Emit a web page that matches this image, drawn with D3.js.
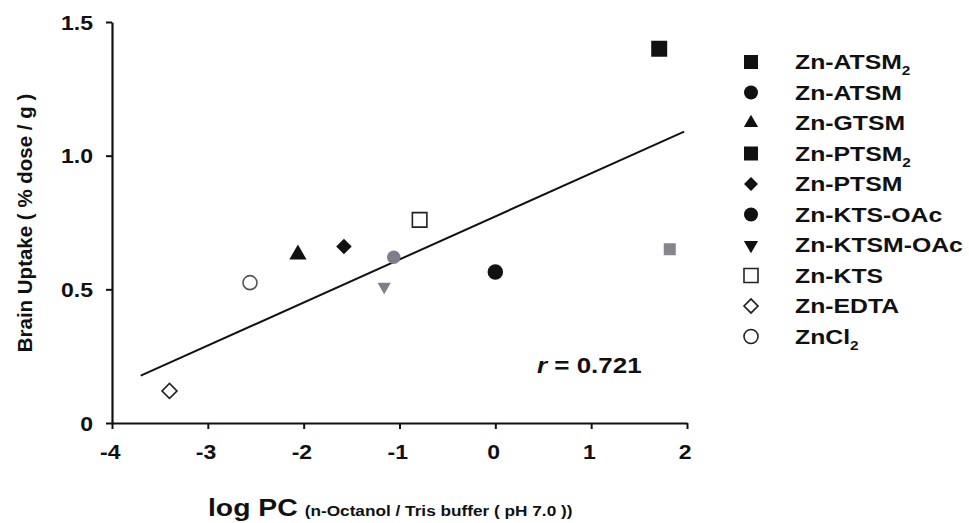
<!DOCTYPE html>
<html>
<head>
<meta charset="utf-8">
<script src="https://cdn.jsdelivr.net/npm/d3@7/dist/d3.min.js"></script>
<style>
  body { margin: 0; background: #fff; }
  svg text { font-family: "Liberation Sans", Arial, sans-serif; font-weight: bold; fill: #111; }
</style>
</head>
<body>
<div id="chart"></div>
<script>
// compounds, in legend order
var compounds = ["Zn-ATSM2", "Zn-ATSM", "Zn-GTSM", "Zn-PTSM2", "Zn-PTSM",
                 "Zn-KTS-OAc", "Zn-KTSM-OAc", "Zn-KTS", "Zn-EDTA", "ZnCl2"];
var logPC  = [1.71, 0.00, -2.06, 1.82, -1.58, -1.06, -1.16, -0.79, -3.40, -2.56];
var uptake = [1.40, 0.565, 0.63, 0.65, 0.66, 0.62, 0.51, 0.76, 0.12, 0.525];

// marker style per compound
var shapes = ["square", "circle", "triangle", "square", "diamond",
              "circle", "triangleDown", "square", "diamond", "circle"];
var fills  = ["#111", "#111", "#111", "#85858f", "#111",
              "#7f7f8c", "#7f7f8c", "#fff", "#fff", "#fff"];
var legendFills = ["#111", "#111", "#111", "#111", "#111",
                   "#111", "#111", "#fff", "#fff", "#fff"];

// axes
var xTicks = [-4, -3, -2, -1, 0, 1, 2];
var yTicks = [0, 0.5, 1.0, 1.5];
var yTickLabels = ["0", "0.5", "1.0", "1.5"];

// fitted line end points (as drawn)
var fitX = [-3.70, 1.97];
var fitY = [0.177, 1.09];
var rText = "0.721";

var width = 969, height = 523;
var sx = 1.18; // the original lettering is wide

var svg = d3.select("#chart").append("svg")
    .attr("width", width).attr("height", height);
svg.append("rect").attr("width", width).attr("height", height).attr("fill", "#fff");

var x = d3.scaleLinear().domain([-4, 2]).range([112, 687]);
var y = d3.scaleLinear().domain([0, 1.5]).range([423, 22]);

// y axis
var yAxis = svg.append("g").attr("transform", "translate(112,0)")
    .call(d3.axisLeft(y).tickValues(yTicks).tickSize(6).tickSizeOuter(0)
        .tickFormat(function(d, i) { return yTickLabels[i]; }));
yAxis.select(".domain").attr("stroke", "#111").attr("stroke-width", 2.2);
yAxis.selectAll(".tick line").attr("stroke", "#111").attr("stroke-width", 2);
yAxis.selectAll(".tick text")
    .attr("x", -19 / 1.15).attr("dy", "0.36em")
    .attr("transform", "scale(1.15,1)")
    .attr("font-size", 20)
    .style("font-family", "Liberation Sans, Arial, sans-serif").attr("font-weight", "bold").attr("fill", "#111");

// x axis
var xAxis = svg.append("g").attr("transform", "translate(0,423)")
    .call(d3.axisBottom(x).tickValues(xTicks).tickSize(6).tickSizeOuter(0)
        .tickFormat(function(d) { return String(d); }));
xAxis.select(".domain").attr("stroke", "#111").attr("stroke-width", 2.2);
xAxis.selectAll(".tick line").attr("stroke", "#111").attr("stroke-width", 2);
xAxis.selectAll(".tick text")
    .attr("x", -2).attr("y", 36).attr("dy", 0)
    .attr("transform", "scale(1.15,1)")
    .attr("font-size", 20)
    .style("font-family", "Liberation Sans, Arial, sans-serif").attr("font-weight", "bold").attr("fill", "#111");

// axis titles
svg.append("text")
    .attr("transform", "translate(32,223) rotate(-90)")
    .attr("text-anchor", "middle")
    .attr("font-size", 20.5)
    .text("Brain Uptake ( % dose / g )");

var xt = svg.append("g").attr("transform", "translate(208,516) scale(" + sx + ",1)")
    .append("text");
xt.append("tspan").attr("font-size", 24).text("log PC");
xt.append("tspan").attr("font-size", 14.6).attr("dx", 6).text("(n-Octanol / Tris buffer ( pH 7.0 ))");

// fitted line
svg.append("line")
    .attr("x1", x(fitX[0])).attr("y1", y(fitY[0]))
    .attr("x2", x(fitX[1])).attr("y2", y(fitY[1]))
    .attr("stroke", "#111").attr("stroke-width", 2);

var rt = svg.append("g").attr("transform", "translate(537,373) scale(" + sx + ",1)")
    .append("text").attr("font-size", 22);
rt.append("tspan").attr("font-style", "italic").text("r");
rt.append("tspan").text(" = " + rText);

// symbols
function symbolPath(shape, s) {
    if (shape === "square") return d3.symbol(d3.symbolSquare, s * s)();
    if (shape === "circle") return d3.symbol(d3.symbolCircle, Math.PI * s * s / 4)();
    if (shape === "triangle" || shape === "triangleDown") return d3.symbol(d3.symbolTriangle, s * s * 0.45)();
    if (shape === "diamond") return d3.symbol(d3.symbolSquare, s * s * 0.5)();
    return d3.symbol(d3.symbolCircle, s * s)();
}
function symbolRotate(shape) {
    if (shape === "diamond") return 45;
    if (shape === "triangleDown") return 180;
    return 0;
}
var sizes = [16, 15.5, 17, 12, 15.5, 13.5, 13, 14.5, 15, 14];

var pts = compounds.map(function(c, i) {
    return { name: c, x: logPC[i], y: uptake[i], shape: shapes[i], fill: fills[i], size: sizes[i] };
});

svg.append("g").selectAll("path.pt")
    .data(pts).enter().append("path")
    .attr("class", "pt")
    .attr("d", function(d) { return symbolPath(d.shape, d.size); })
    .attr("transform", function(d) {
        return "translate(" + x(d.x) + "," + y(d.y) + ") rotate(" + symbolRotate(d.shape) + ")";
    })
    .attr("fill", function(d) { return d.fill; })
    .attr("stroke", function(d) { return d.fill === "#fff" ? (d.shape === "circle" ? "#555" : "#222") : "none"; })
    .attr("stroke-width", function(d) { return d.fill === "#fff" ? 1.6 : 0; });

// legend
var leg = svg.append("g");
var rows = leg.selectAll("g.row").data(compounds).enter().append("g")
    .attr("class", "row")
    .attr("transform", function(d, i) { return "translate(751," + (62 + i * 30.5) + ")"; });

rows.append("path")
    .attr("d", function(d, i) { return symbolPath(shapes[i], 14); })
    .attr("transform", function(d, i) { return "rotate(" + symbolRotate(shapes[i]) + ")"; })
    .attr("fill", function(d, i) { return legendFills[i]; })
    .attr("stroke", function(d, i) { return legendFills[i] === "#fff" ? "#222" : "none"; })
    .attr("stroke-width", 1.6);

rows.each(function(d) {
    var t = d3.select(this).append("g")
        .attr("transform", "translate(44,7) scale(" + sx + ",1)")
        .append("text").attr("font-size", 21);
    var m = d.match(/^(.*?)(2)$/);
    if (m) {
        t.append("tspan").text(m[1]);
        t.append("tspan").attr("font-size", 13).attr("dy", 6).text(m[2]);
    } else {
        t.text(d);
    }
});
</script>
</body>
</html>
